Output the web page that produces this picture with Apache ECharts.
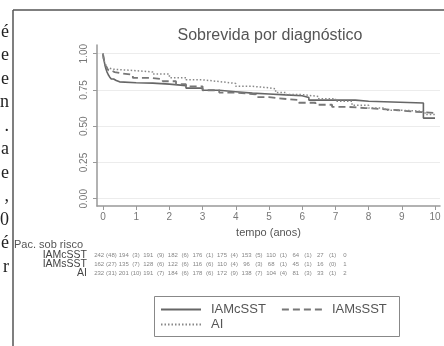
<!DOCTYPE html>
<html>
<head>
<meta charset="utf-8">
<script src="https://cdn.jsdelivr.net/npm/echarts@6/dist/echarts.min.js"></script>
<style>
  html, body { margin: 0; padding: 0; background: #fff; }
  #chart { width: 444px; height: 346px; }
</style>
</head>
<body>
<div id="chart"></div>
<script>
// eixos
const years = [0, 1, 2, 3, 4, 5, 6, 7, 8, 9, 10]
const survTicks = [0, 0.25, 0.5, 0.75, 1]
const groups = ['IAMcSST', 'IAMsSST', 'AI']

// curvas de Kaplan-Meier (tempo em anos, sobrevida)
const cTime = [0, 0.02, 0.04, 0.06, 0.09, 0.12, 0.16, 0.2, 0.25, 0.32, 0.4, 0.5, 1.0, 1.5, 2.0, 2.5, 3.0, 3.5, 4.0, 4.5, 5.0, 5.5, 6.0, 6.2, 7.6, 8.0, 9.65, 10.0]
const cSurv = [1, 0.97, 0.945, 0.92, 0.895, 0.875, 0.855, 0.84, 0.826, 0.815, 0.806, 0.8, 0.797, 0.79, 0.78, 0.763, 0.748, 0.738, 0.728, 0.722, 0.716, 0.71, 0.698, 0.68, 0.672, 0.66, 0.556, 0.556]

const sTime = [0, 0.02, 0.05, 0.08, 0.12, 0.17, 0.25, 0.35, 0.55, 0.9, 1.4, 1.8, 2.2, 2.5, 3.0, 3.5, 4.0, 4.6, 5.0, 5.3, 5.9, 6.4, 6.9, 7.4, 7.9, 8.4, 8.9, 9.4, 10.0]
const sSurv = [1, 0.965, 0.94, 0.92, 0.9, 0.885, 0.873, 0.865, 0.855, 0.833, 0.825, 0.81, 0.79, 0.775, 0.748, 0.732, 0.72, 0.7, 0.692, 0.68, 0.662, 0.648, 0.633, 0.625, 0.618, 0.61, 0.6, 0.592, 0.592]

const aTime = [0, 0.02, 0.05, 0.08, 0.12, 0.18, 0.3, 1.0, 1.5, 2.0, 2.5, 3.0, 3.5, 4.0, 4.5, 5.0, 5.2, 5.5, 6.0, 6.5, 7.0, 7.5, 8.0, 8.5, 9.0, 9.5, 9.7, 10.0]
const aSurv = [1, 0.965, 0.94, 0.92, 0.905, 0.893, 0.883, 0.874, 0.86, 0.835, 0.82, 0.808, 0.795, 0.775, 0.765, 0.757, 0.732, 0.718, 0.705, 0.69, 0.672, 0.645, 0.625, 0.61, 0.605, 0.598, 0.58, 0.58]

// pacientes sob risco e (eventos) por ano
const cAtRisk = [242, 194, 191, 182, 176, 175, 153, 110, 64, 27, 0]
const cEvents = [48, 3, 9, 6, 1, 4, 5, 1, 1, 1]
const sAtRisk = [162, 135, 128, 122, 116, 110, 96, 68, 45, 16, 1]
const sEvents = [27, 7, 6, 6, 6, 4, 3, 1, 1, 0]
const aAtRisk = [232, 201, 191, 184, 178, 172, 138, 104, 81, 33, 2]
const aEvents = [31, 10, 7, 6, 6, 9, 7, 4, 3, 1]

// sobra de texto da página (margem esquerda)
const marginChars = ['é', 'e', 'e', 'n', '.', 'a', 'e', ',', '0', 'é', 'r']

const zip = (xs, ys) => xs.map((x, i) => [x, ys[i]])

const tableRows = [[cAtRisk, cEvents], [sAtRisk, sEvents], [aAtRisk, aEvents]]
const tableData = []
tableRows.forEach(([n, ev], row) => {
  n.forEach((v, i) => tableData.push([2 * i, row, String(v)]))
  ev.forEach((v, i) => tableData.push([2 * i + 1, row, '(' + v + ')']))
})
const slots = Array.from({ length: 21 }, (_, i) => String(i))

const chart = echarts.init(document.getElementById('chart'))

const font = 'Liberation Sans, Arial, sans-serif'

const graphics = [
  { type: 'line', shape: { x1: 13, y1: 10, x2: 13, y2: 346 }, style: { stroke: '#555', lineWidth: 1.5 } },
  { type: 'line', shape: { x1: 13, y1: 10, x2: 444, y2: 10 }, style: { stroke: '#555', lineWidth: 1.5 } },
  { type: 'rect', shape: { x: 154.5, y: 296.5, width: 245, height: 40 }, style: { fill: 'none', stroke: '#888', lineWidth: 1 } },
  { type: 'text', left: 14, top: 239, style: { text: 'Pac. sob risco', fontSize: 11, fontFamily: font, fill: '#555' } }
]
marginChars.forEach((ch, i) => {
  graphics.push({
    type: 'text', x: 9, y: 32 + i * 23.5,
    style: { text: ch, fontSize: 18, fontFamily: 'Liberation Serif, serif', fill: '#222', align: 'right', verticalAlign: 'middle' }
  })
})

const legendCommon = {
  padding: 0, itemWidth: 40, itemHeight: 14, itemGap: 15,
  itemStyle: { opacity: 0 },
  textStyle: { fontSize: 13, color: '#555', fontFamily: font, padding: [0, 0, 0, 5] }
}

const option = {
  animation: false,
  backgroundColor: '#fff',
  title: {
    text: 'Sobrevida por diagnóstico',
    left: 270, top: 28, textAlign: 'center', padding: 0,
    textStyle: { fontSize: 16, fontWeight: 'normal', color: '#555', fontFamily: font }
  },
  legend: [
    Object.assign({ data: ['IAMcSST', 'IAMsSST'], left: 160, top: 303 }, legendCommon),
    Object.assign({ data: ['AI'], left: 160, top: 318 }, legendCommon)
  ],
  grid: [
    { left: 97, top: 45, width: 343, height: 161 },
    { left: 93, top: 250.5, width: 258, height: 27 }
  ],
  xAxis: [
    {
      type: 'value', gridIndex: 0, min: -0.18, max: 10.15,
      name: 'tempo (anos)', nameLocation: 'middle', nameGap: 21,
      nameTextStyle: { fontSize: 11, color: '#555', fontFamily: font },
      axisLine: { onZero: false, lineStyle: { color: '#999', width: 1.5 } },
      axisTick: { customValues: years, length: 4, lineStyle: { color: '#999' } },
      axisLabel: { customValues: years, fontSize: 10, color: '#777', fontFamily: font, margin: 6 },
      splitLine: { show: false }
    },
    { type: 'category', gridIndex: 1, data: slots, show: false }
  ],
  yAxis: [
    {
      type: 'value', gridIndex: 0, min: -0.05, max: 1.06,
      axisLine: { show: true, onZero: false, lineStyle: { color: '#999', width: 1.5 } },
      axisTick: { show: true, customValues: survTicks, length: 4, lineStyle: { color: '#999' } },
      axisLabel: {
        customValues: survTicks, rotate: 90, fontSize: 10, color: '#777', fontFamily: font, margin: 8,
        formatter: v => v.toFixed(2)
      },
      splitLine: { show: true, lineStyle: { color: '#ececec', width: 1 } }
    },
    {
      type: 'category', gridIndex: 1, data: groups, inverse: true,
      axisLine: { show: false }, axisTick: { show: false },
      axisLabel: { interval: 0, fontSize: 10.5, color: '#444', fontFamily: font, margin: 6 }
    }
  ],
  series: [
    {
      name: 'IAMcSST', type: 'line', step: 'end', symbol: 'none',
      data: zip(cTime, cSurv),
      lineStyle: { color: '#666', width: 1.6, type: 'solid' },
      itemStyle: { color: '#666' }
    },
    {
      name: 'IAMsSST', type: 'line', step: 'end', symbol: 'none',
      data: zip(sTime, sSurv),
      lineStyle: { color: '#777', width: 1.8, type: [7, 4] },
      itemStyle: { color: '#777' }
    },
    {
      name: 'AI', type: 'line', step: 'end', symbol: 'none',
      data: zip(aTime, aSurv),
      lineStyle: { color: '#888', width: 1.5, type: [1.5, 2] },
      itemStyle: { color: '#888' }
    },
    {
      type: 'scatter', xAxisIndex: 1, yAxisIndex: 1, symbolSize: 0,
      data: tableData,
      label: {
        show: true, position: 'inside', fontSize: 6, color: '#666', fontFamily: font,
        formatter: p => p.value[2]
      }
    }
  ],
  graphic: graphics
}

chart.setOption(option)
window.addEventListener('resize', () => chart.resize())
</script>
</body>
</html>
